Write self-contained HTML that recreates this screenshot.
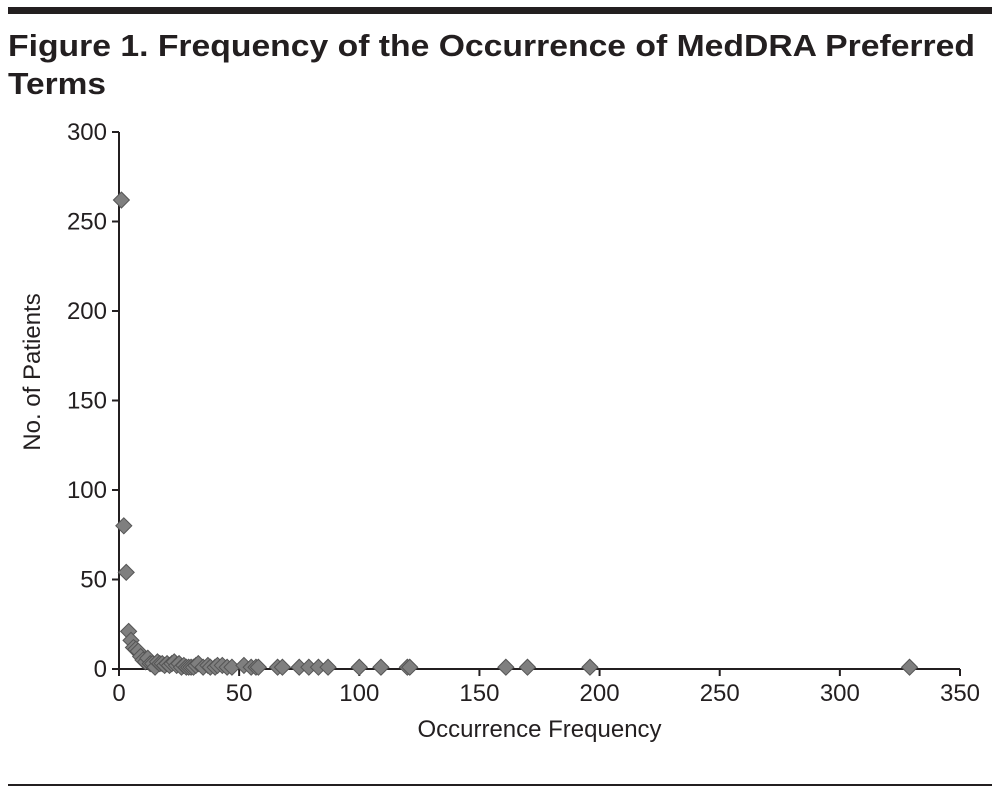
<!DOCTYPE html>
<html><head><meta charset="utf-8"><style>
body{margin:0;background:#fff;width:1000px;height:792px;overflow:hidden;font-family:"Liberation Sans",sans-serif}
</style></head><body>
<svg width="1000" height="792">
<rect x="8" y="7" width="984" height="7" fill="#231f20"/>
<text x="8" y="56" font-size="31" font-weight="bold" fill="#231f20" textLength="967" lengthAdjust="spacingAndGlyphs">Figure 1. Frequency of the Occurrence of MedDRA Preferred</text>
<text x="8" y="94" font-size="31" font-weight="bold" fill="#231f20" textLength="98" lengthAdjust="spacingAndGlyphs">Terms</text>
<rect x="8" y="784" width="984" height="2" fill="#231f20"/>
<g id="chart"></g>
</svg>
<script>
const xTicks=[0,50,100,150,200,250,300,350];
const yTicks=[0,50,100,150,200,250,300];
const freq=[1,2,3,4,5,6,7,8,9,10,11,12,13,14,15,16,17,18,19,20,21,22,23,24,25,26,27,28,29,30,31,32,33,35,37,38,40,41,43,45,47,52,55,57,58,66,68,75,79,83,87,100,109,120,121,161,170,196,329];
const patients=[262,80,54,21,16,12,11,10,7,5,4,6,3,3,1,4,3,3,2,3,2,3,4,2,3,1,2,1,1,1,1,2,3,1,2,1,1,2,2,1,1,2,1,1,1,1,1,1,1,1,1,1,1,1,1,1,1,1,1];
const NS="http://www.w3.org/2000/svg";
const g=document.getElementById('chart');
const X0=119,X1=960,Y0=669,Y1=132;
const sx=v=>X0+(v/350)*(X1-X0);
const sy=v=>Y0-(v/300)*(Y0-Y1);
function el(t,a,txt){const e=document.createElementNS(NS,t);for(const k in a)e.setAttribute(k,a[k]);if(txt!==undefined)e.textContent=txt;g.appendChild(e);return e;}
let e;
e=el('line',{x1:X0,y1:Y1,x2:X0,y2:Y0+1,stroke:'#231f20','stroke-width':2});


e=el('line',{x1:X0-1,y1:Y0,x2:X1,y2:Y0,stroke:'#231f20','stroke-width':2});


yTicks.forEach(v=>{
 e=el('line',{x1:X0-7,y1:sy(v),x2:X0,y2:sy(v),stroke:'#231f20','stroke-width':2});
 
 
 e=el('text',{x:X0-12,y:sy(v)+8,'font-size':24,'text-anchor':'end',fill:'#231f20'},v);
 
 
});
xTicks.forEach(v=>{
 e=el('line',{x1:sx(v),y1:Y0,x2:sx(v),y2:Y0+7,stroke:'#231f20','stroke-width':2});
 
 
 e=el('text',{x:sx(v),y:Y0+32,'font-size':24,'text-anchor':'middle',fill:'#231f20'},v);
 
 
});
e=el('text',{x:(X0+X1)/2,y:737,'font-size':24,'text-anchor':'middle',fill:'#231f20'},'Occurrence Frequency');


e=el('text',{x:0,y:0,'font-size':24,'text-anchor':'middle',fill:'#231f20',transform:'translate(40,372) rotate(-90)'},'No. of Patients');


freq.forEach((f,i)=>{
 const x=sx(f),y=sy(patients[i]),r=8;
 e=el('polygon',{points:`${x},${y-r} ${x+r},${y} ${x},${y+r} ${x-r},${y}`,fill:'#7f7f7f',stroke:'#555','stroke-width':1});
 
 
});
</script>
</body></html>
